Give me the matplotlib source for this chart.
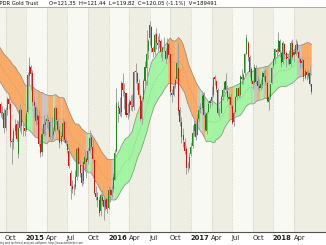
import matplotlib
matplotlib.use("Agg")
import matplotlib.pyplot as plt
from matplotlib.collections import PolyCollection
import numpy as np
import pandas as pd

# weekly bars, SPDR Gold Trust. The first 30 bars (from 17 Feb 2014) only feed the band;
# the visible chart starts with the week of 15 Sep 2014.
start_week = "2014-02-17"
first_visible = 30

opens = [
    126.0, 127.5, 127.6, 129.0, 132.7, 128.6, 124.7, 125.4, 127.0, 124.6, 125.2, 125.4, 124.1, 124.5, 124.4, 120.3,
    120.6, 122.7, 126.7, 126.8, 127.2, 128.4, 126.3, 125.6, 124.7, 126.2, 125.6, 123.3, 123.9, 121.9,
    118.3, 116.9, 116.8, 114.6, 117.3, 119.0, 118.2, 112.5, 112.3, 114.0, 115.2, 110.5, 114.5, 117.3, 114.8, 114.6,
    114.3, 117.0, 122.6, 124.0, 123.0, 118.6, 117.8, 115.8, 116.4, 112.1, 110.8, 113.6, 115.0, 115.6, 115.8, 115.5,
    113.3, 113.4, 114.1, 117.6, 115.6, 114.2, 112.3, 113.2, 115.5, 112.6, 112.0, 111.0, 107.5, 105.5, 105.0, 105.3,
    107.0, 111.5, 108.8, 107.5, 106.3, 109.0, 109.7, 109.5, 111.0, 113.2, 111.6, 109.6, 104.5, 103.9, 103.4, 101.6,
    103.8, 103.3, 102.2, 103.5, 102.1, 104.9, 104.1, 105.0, 106.5, 110.9, 118.0, 117.6, 117.0, 121.6, 120.2, 119.9,
    116.5, 116.8, 118.7, 118.0, 117.8, 123.4, 123.0, 121.6, 119.5, 116.0, 119.0, 121.8, 123.9, 126.5, 128.5, 130.2,
    127.0, 126.3, 129.2, 127.5, 127.9, 128.0, 126.3, 127.0, 126.5, 125.4, 127.6, 126.0, 120.0, 119.7, 121.2, 122.2,
    123.8, 117.3, 115.5, 113.4, 112.4, 111.3, 108.3, 108.4, 110.5, 111.8, 114.0, 115.2, 113.5, 116.0, 117.5, 117.7,
    119.6, 116.6, 114.0, 117.0, 118.4, 118.8, 119.6, 122.4, 121.8, 120.5, 116.8, 116.9, 119.3, 120.6, 121.9, 120.3,
    119.0, 119.3, 118.0, 115.4, 117.0, 119.4, 120.7, 119.6, 122.4, 122.0, 123.0, 126.1, 127.7, 125.6, 123.7, 121.8,
    121.6, 123.9, 121.8, 121.0, 120.8, 121.2, 123.1, 122.6, 121.6, 118.5, 119.4, 121.5, 124.1, 125.2, 126.7, 126.5,
    128.0, 126.2, 124.8, 127.6, 126.2, 125.6, 125.2, 124.5, 127.7, 125.8, 126.1, 127.6, 126.4, 125.2, 124.6, 125.1,
    122.3, 123.3, 122.6, 123.0, 121.35,
]
highs = [
    127.8, 129.0, 129.5, 133.0, 133.0, 129.0, 126.2, 127.7, 127.3, 125.5, 126.0, 126.8, 125.0, 125.1, 124.5, 121.0,
    123.0, 127.0, 127.7, 127.9, 129.5, 128.8, 127.2, 126.4, 126.9, 126.9, 125.8, 124.9, 124.0, 122.0,
    118.5, 118.0, 117.6, 117.8, 119.4, 119.4, 118.5, 113.0, 114.5, 116.0, 115.8, 115.6, 118.3, 117.6, 115.3, 116.6,
    117.3, 123.2, 125.6, 124.3, 123.6, 119.0, 118.0, 117.7, 117.2, 112.6, 114.5, 116.6, 115.9, 116.7, 116.3, 115.8,
    116.2, 114.7, 117.9, 117.8, 116.0, 114.8, 113.9, 116.1, 115.8, 113.1, 112.6, 111.3, 108.0, 106.5, 105.9, 108.0,
    111.6, 111.8, 109.6, 108.5, 109.4, 110.9, 110.0, 111.5, 114.3, 113.8, 112.9, 109.8, 105.6, 104.6, 103.9, 104.4,
    104.9, 103.8, 103.6, 103.7, 105.6, 105.4, 105.7, 107.6, 111.2, 120.7, 118.7, 119.3, 121.9, 123.0, 121.5, 120.0,
    118.4, 119.1, 119.6, 119.8, 123.4, 124.6, 123.3, 122.2, 119.8, 119.2, 122.1, 124.9, 129.8, 128.3, 131.15, 130.4,
    127.3, 129.3, 130.0, 128.8, 129.3, 128.4, 127.2, 128.6, 127.0, 128.5, 128.1, 126.2, 120.6, 121.6, 122.5, 124.9,
    127.9, 117.8, 116.3, 114.6, 113.0, 111.8, 109.2, 110.6, 112.3, 115.0, 115.8, 115.4, 116.7, 117.9, 118.4, 119.9,
    120.2, 117.0, 117.2, 118.8, 119.0, 121.0, 122.5, 122.8, 122.0, 120.7, 117.6, 119.7, 120.8, 121.9, 123.0, 121.2,
    119.9, 119.8, 118.3, 117.2, 119.5, 120.8, 121.0, 122.7, 123.7, 123.0, 126.2, 129.1, 128.0, 125.9, 124.0, 122.0,
    124.4, 124.3, 122.6, 122.2, 122.1, 123.4, 123.5, 123.7, 121.8, 119.8, 121.4, 124.0, 125.4, 127.0, 127.0, 129.5,
    128.4, 126.5, 128.0, 127.8, 126.5, 126.2, 126.7, 128.0, 128.3, 126.7, 128.4, 128.0, 126.7, 125.5, 125.6, 125.2,
    123.9, 123.6, 123.6, 124.2, 121.44,
]
lows = [
    125.6, 126.3, 126.8, 128.6, 128.2, 124.5, 123.0, 125.0, 124.0, 123.5, 123.4, 123.9, 123.8, 123.5, 120.0, 119.4,
    120.5, 122.3, 125.8, 126.3, 126.5, 124.9, 124.9, 123.5, 124.3, 125.0, 122.8, 122.8, 121.4, 118.1,
    116.3, 116.0, 113.8, 114.2, 116.6, 117.5, 111.6, 108.9, 111.2, 113.5, 112.5, 109.9, 114.0, 113.6, 113.3, 113.3,
    114.0, 116.9, 121.2, 120.4, 118.0, 116.2, 115.0, 115.2, 111.7, 110.0, 110.2, 113.3, 113.5, 114.5, 114.2, 112.9,
    112.5, 112.9, 113.9, 115.2, 113.7, 111.4, 112.0, 112.8, 112.4, 111.9, 110.7, 108.4, 103.5, 104.4, 104.1, 105.1,
    106.5, 107.1, 107.0, 105.5, 105.8, 107.9, 106.8, 109.0, 110.8, 111.3, 109.1, 104.3, 103.4, 102.3, 100.9, 100.8,
    102.6, 100.2, 101.8, 101.3, 102.0, 103.0, 103.8, 104.6, 106.4, 110.8, 115.5, 116.4, 116.2, 119.5, 117.5, 116.2,
    115.9, 116.4, 117.4, 117.1, 117.4, 121.6, 120.5, 119.2, 115.6, 115.2, 118.7, 121.2, 121.2, 125.2, 127.5, 126.3,
    125.5, 125.9, 126.8, 126.5, 127.0, 125.6, 124.9, 126.5, 124.6, 125.2, 125.1, 119.5, 118.5, 119.5, 120.8, 122.0,
    116.5, 114.8, 112.2, 111.6, 110.5, 107.4, 107.7, 108.2, 110.2, 111.5, 113.3, 112.7, 113.4, 115.6, 116.8, 117.3,
    116.5, 114.0, 113.6, 116.8, 117.6, 118.1, 119.4, 121.2, 120.2, 116.5, 116.3, 116.8, 118.9, 120.0, 120.1, 118.8,
    118.2, 117.6, 115.1, 114.9, 116.8, 118.9, 119.2, 119.3, 121.4, 121.3, 122.7, 126.0, 125.0, 122.5, 121.5, 120.6,
    121.4, 121.3, 120.6, 120.3, 120.4, 120.8, 122.0, 121.2, 118.5, 117.4, 119.1, 121.3, 123.8, 124.5, 125.6, 126.2,
    125.5, 124.0, 124.4, 125.3, 124.0, 124.4, 124.3, 124.2, 125.3, 124.8, 125.9, 126.2, 124.8, 123.8, 123.9, 121.9,
    122.1, 122.0, 122.3, 121.0, 119.82,
]
closes = [
    127.4, 127.7, 128.9, 132.8, 128.7, 124.6, 125.5, 126.9, 124.5, 125.3, 125.4, 124.0, 124.5, 124.4, 120.4, 120.6,
    122.7, 126.7, 126.7, 127.1, 128.7, 126.2, 125.5, 124.6, 126.2, 125.7, 123.3, 123.9, 122.0, 118.5,
    116.9, 117.0, 114.6, 117.4, 119.0, 118.3, 112.5, 112.4, 114.1, 115.0, 112.9, 114.6, 117.4, 114.8, 114.8, 114.0,
    116.9, 122.7, 124.2, 122.9, 118.5, 117.9, 115.6, 116.5, 112.1, 110.7, 113.6, 115.2, 115.4, 115.9, 115.6, 113.2,
    113.3, 114.1, 117.7, 115.8, 114.2, 112.2, 113.3, 115.3, 112.7, 112.2, 111.1, 108.6, 105.6, 105.1, 105.1, 106.9,
    111.3, 108.9, 107.6, 106.0, 109.2, 110.0, 109.2, 111.0, 113.0, 111.6, 109.7, 104.5, 103.8, 103.3, 101.4, 104.1,
    103.2, 102.3, 103.3, 101.9, 104.9, 104.1, 104.9, 106.9, 110.7, 118.4, 117.7, 116.7, 121.5, 120.4, 120.0, 116.6,
    116.8, 118.5, 118.1, 117.8, 123.3, 123.3, 121.7, 119.7, 116.0, 118.8, 121.9, 124.0, 126.0, 128.0, 130.6, 127.0,
    126.4, 129.0, 127.7, 127.7, 128.2, 126.3, 126.9, 127.0, 125.2, 127.8, 125.9, 120.2, 119.7, 121.1, 122.0, 124.6,
    117.1, 115.5, 113.1, 112.6, 111.0, 108.4, 108.3, 110.1, 111.6, 113.8, 115.1, 113.2, 116.0, 117.4, 117.7, 119.5,
    116.6, 114.2, 116.9, 118.3, 118.8, 119.3, 122.3, 122.1, 120.6, 116.8, 116.8, 119.3, 120.5, 121.7, 120.4, 119.3,
    119.4, 118.1, 115.3, 116.8, 119.3, 120.7, 119.5, 122.6, 122.1, 122.8, 126.0, 128.5, 125.5, 123.3, 121.8, 121.3,
    124.0, 121.7, 121.0, 120.7, 121.3, 123.0, 122.5, 121.7, 118.7, 119.4, 121.3, 123.9, 125.3, 126.8, 126.3, 128.2,
    126.4, 124.7, 127.7, 126.1, 125.3, 125.4, 124.5, 127.7, 125.6, 126.3, 127.5, 126.7, 125.4, 124.6, 125.0, 122.4,
    123.4, 122.7, 123.1, 121.3, 120.05,
]

title_name = "SPDR Gold Trust"
title_quote = "O=121.35  H=121.44  L=119.82  C=120.05 (-1.1%)  V=189491"
footer_text = "AmiBroker - advanced charting and technical analysis software. http://www.amibroker.com"

o = np.array(opens)
h = np.array(highs)
l = np.array(lows)
c = np.array(closes)
n = len(c)
idx = np.arange(n)
dates = pd.date_range(start_week, periods=n, freq="7D")

# trend band: 24-bar average of close +/- average true range
period = 24
s = pd.Series(c)
prev = s.shift(1).bfill().values
tr = np.maximum(h - l, np.maximum(abs(h - prev), abs(l - prev)))
mid = s.rolling(period, min_periods=1).mean().values
atr = pd.Series(tr).rolling(period, min_periods=1).mean().values
upper = mid + 1.0 * atr
lower = mid - 1.0 * atr

# colour: close clearly above the middle -> green, clearly below -> orange, near it -> grey
dist = c - mid
thr = 0.25 * atr
state = np.where(dist > thr, "#a0f5a0", np.where(dist < -thr, "#fba862", "#c4c4c4"))

x0 = first_visible - 0.5
x1 = first_visible + 205.2
fig = plt.figure(figsize=(3.26, 2.45), dpi=100)
fig.patch.set_facecolor("white")
ax = fig.add_axes([0, 1 - 232 / 245, 1, 224 / 245])
ax.set_xlim(x0, x1)
ax.set_ylim(98.39, 133.17)
ax.set_facecolor("#f9f9f4")

# quarter grid + alternating stripes
qstart = [i for i in range(first_visible, n) if dates[i].month in (1, 4, 7, 10) and dates[i].month != dates[i - 1].month]
edges = qstart + [x1]
for k, q in enumerate(qstart):
    if dates[q].month in (10, 4):
        ax.axvspan(q, edges[k + 1], color="#efeee3", lw=0, zorder=0)
    ax.axvline(q, color="#b8b8b0", lw=0.5, ls=(0, (1, 1.5)), zorder=1)
ax.axvspan(x0, qstart[0], color="#f4f4ec", lw=0, zorder=0)

# band segments
polys = []
for i in range(1, n):
    polys.append([(i - 1, upper[i - 1]), (i, upper[i]), (i, lower[i]), (i - 1, lower[i - 1])])
ax.add_collection(PolyCollection(polys, facecolors=state[1:], edgecolors=state[1:], linewidths=0.3, zorder=2))
ax.plot(idx, upper, color="#8c8c8c", lw=0.5, zorder=3)
ax.plot(idx, lower, color="#8c8c8c", lw=0.5, zorder=3)
ax.plot(idx, mid, color="#8c8c8c", lw=0.4, ls=(0, (1, 2)), zorder=3)

# candles
up = c >= o
ax.vlines(idx, l, h, color="#a0a0a0", lw=0.7, zorder=4)
ax.bar(idx[up], (c - o)[up], bottom=o[up], width=0.65, color="#1e8c1e", lw=0, zorder=5)
ax.bar(idx[~up], (o - c)[~up], bottom=c[~up], width=0.65, color="#e01010", lw=0, zorder=5)

ax.set_yticks([])
ax.set_xticks([])
for sp in ["top", "left", "right"]:
    ax.spines[sp].set_visible(False)
ax.spines["bottom"].set_color("#505050")
ax.spines["bottom"].set_linewidth(0.8)

for q in qstart:
    lab = str(dates[q].year) if dates[q].month == 1 else dates[q].strftime("%b")
    ax.text(q - 0.3, -0.014, lab, transform=ax.get_xaxis_transform(), fontsize=4.9,
            fontweight="bold" if dates[q].month == 1 else "normal",
            color="#202020", ha="left", va="top")

# header bar
fig.add_artist(plt.Line2D([0, 1], [1 - 7.5 / 245] * 2, color="#9a9a9a", lw=0.6))
fig.text(-4 / 326, 1 - 3.6 / 245, title_name, fontsize=3.8, color="#101010", ha="left", va="center")
fig.text(49 / 326, 1 - 3.6 / 245, title_quote, fontsize=3.8, color="#101010", ha="left", va="center")
fig.text(83 / 326, 1 - 243 / 245, footer_text, fontsize=1.9, color="#303030", ha="right", va="center")

fig.savefig("out.png", dpi=100)
